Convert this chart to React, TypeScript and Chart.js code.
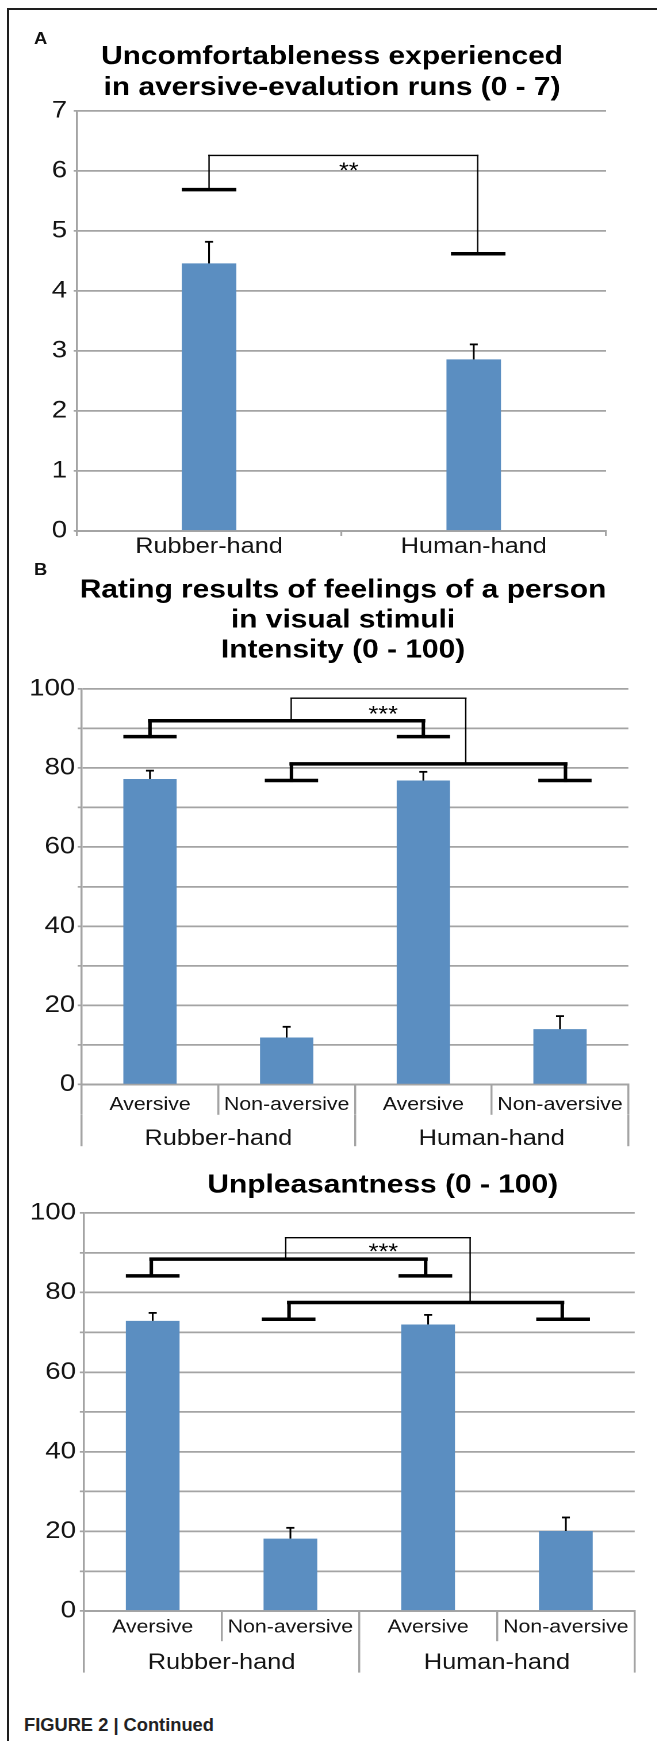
import React, { useEffect, useRef } from 'react';
import { Chart, registerables } from 'chart.js';

Chart.register(...registerables);

// ---------------- data ----------------
const aCategories = ['Rubber-hand', 'Human-hand'];
const aMeans = [4.46, 2.86];
const aErrTops = [4.82, 3.11];
const aTitle = ['Uncomfortableness experienced', 'in aversive-evalution runs (0 - 7)'];

const bCategories = ['Aversive', 'Non-aversive', 'Aversive', 'Non-aversive'];
const bGroups = ['Rubber-hand', 'Human-hand'];

const intensityTitle = ['Rating results of feelings of a person', 'in visual stimuli', 'Intensity (0 - 100)'];
const intensityMeans = [77.2, 11.9, 76.8, 14.0];
const intensityErrTops = [79.3, 14.6, 79.0, 17.3];

const unpleasantTitle = 'Unpleasantness (0 - 100)';
const unpleasantMeans = [72.9, 18.2, 72.0, 20.1];
const unpleasantErrTops = [74.9, 20.9, 74.4, 23.5];

// significance annotations: [category index, value]
type Pt = [number, number];
const aCaps: Pt[] = [[0, 5.69], [1.017, 4.62]];
const aThick: Pt[][] = [];
const aThin: Pt[][] = [[[0, 5.69], [0, 6.26], [1.015, 6.26], [1.015, 4.62]]];
const aStars = { at: [0.528, 6.1] as Pt, text: '**' };

const intCaps: Pt[] = [[0, 87.9], [2.0, 87.9], [1.035, 76.8], [3.036, 76.8]];
const intThick: Pt[][] = [
  [[0, 87.9], [0, 91.9], [2.0, 91.9], [2.0, 87.9]],
  [[1.035, 76.8], [1.035, 81.0], [3.04, 81.0], [3.04, 76.8]],
];
const intThin: Pt[][] = [[[1.033, 91.9], [1.033, 97.6], [2.31, 97.6], [2.31, 81.0]]];
const intStars = { at: [1.706, 94.9] as Pt, text: '***' };

const unpCaps: Pt[] = [[0, 84.2], [1.98, 84.2], [0.987, 73.3], [2.98, 73.3]];
const unpThick: Pt[][] = [
  [[-0.01, 84.2], [-0.01, 88.4], [1.982, 88.4], [1.982, 84.2]],
  [[0.99, 73.3], [0.99, 77.5], [2.974, 77.5], [2.974, 73.3]],
];
const unpThin: Pt[][] = [[[0.966, 88.4], [0.966, 93.8], [2.305, 93.8], [2.305, 77.5]]];
const unpStars = { at: [1.675, 91.7] as Pt, text: '***' };

// ---------------- style ----------------
const S = 1.15; // horizontal stretch of the reference figure
const LW = 660; // logical canvas width (clipped by the page)
const FONT = "'Liberation Sans', Arial, Helvetica, sans-serif";
const GRID = '#a4a4a4';
const TXT = '#141414';
const BAR = '#5b8ec1';

function seg(ctx: CanvasRenderingContext2D, x1: number, y1: number, x2: number, y2: number, w: number, cap: CanvasLineCap = 'square') {
  const vertical = Math.abs(x1 - x2) < 0.01;
  ctx.lineWidth = vertical ? w / S : w;
  ctx.lineCap = cap;
  ctx.beginPath();
  ctx.moveTo(x1, y1);
  ctx.lineTo(x2, y2);
  ctx.stroke();
}

function annotPlugin(id: string, means: number[], errTops: number[], caps: Pt[], thick: Pt[][], thin: Pt[][], stars: { at: Pt; text: string }) {
  return {
    id,
    afterDatasetsDraw(chart: any) {
      const ctx: CanvasRenderingContext2D = chart.ctx;
      const xs = chart.scales.x;
      const ys = chart.scales.y;
      const meta = chart.getDatasetMeta(0);
      const px = (i: number) => xs.getPixelForValue(i);
      const py = (v: number) => ys.getPixelForValue(v);
      ctx.save();
      ctx.strokeStyle = '#000';
      ctx.fillStyle = '#000';
      means.forEach((m, i) => {
        const bar = meta.data[i];
        const x = bar.x;
        const y0 = py(m);
        const y1 = py(errTops[i]);
        seg(ctx, x, y0, x, y1, 1.8, 'butt');
        seg(ctx, x - 3.5, y1, x + 3.5, y1, 1.8, 'butt');
      });
      const bw = meta.data[0].width;
      caps.forEach(([i, v]) => seg(ctx, px(i) - bw / 2, py(v), px(i) + bw / 2, py(v), 3.5, 'butt'));
      const poly = (pts: Pt[], w: number) => {
        for (let k = 0; k < pts.length - 1; k++) {
          seg(ctx, px(pts[k][0]), py(pts[k][1]), px(pts[k + 1][0]), py(pts[k + 1][1]), w, 'square');
        }
      };
      thick.forEach((p) => poly(p, 3.5));
      thin.forEach((p) => poly(p, 1.4));
      const fs = 22;
      ctx.font = `${fs}px ${FONT}`;
      ctx.textAlign = 'center';
      ctx.textBaseline = 'alphabetic';
      ctx.fillText(stars.text, px(stars.at[0]), py(stars.at[1]) + 0.58 * fs);
      ctx.restore();
    },
  };
}

function titleOpts(text: string | string[], lineH: number, top: number, bottom: number) {
  return {
    display: true,
    text,
    color: '#000',
    font: { family: FONT, size: 26, weight: 'bold' as const, lineHeight: lineH / 26 },
    padding: { top, bottom },
  };
}

// invisible right-hand box that keeps the title centred where the reference has it
function spacer(width: number) {
  return {
    type: 'linear',
    position: 'right',
    display: true,
    grid: { display: false },
    ticks: { display: false },
    border: { display: false },
    afterFit: (s: any) => { s.width = width; },
  };
}

function configA(): any {
  return {
    type: 'bar',
    data: {
      labels: aCategories,
      datasets: [{ data: aMeans, backgroundColor: BAR, borderWidth: 0, barPercentage: 0.206, categoryPercentage: 1 }],
    },
    options: {
      responsive: false,
      animation: false,
      devicePixelRatio: 2,
      layout: { padding: { left: 36.7, right: 119.3, top: 0, bottom: 2 } },
      plugins: {
        legend: { display: false },
        tooltip: { enabled: false },
        title: titleOpts(aTitle, 31, 41.4, 7.6),
      },
      scales: {
        x: {
          offset: true,
          grid: { offset: true, drawOnChartArea: false, drawTicks: true, tickLength: 5, color: GRID, lineWidth: 1.6 },
          border: { display: true, color: GRID, width: 2 },
          ticks: { font: { family: FONT, size: 22, lineHeight: 1 }, color: TXT, padding: 0, maxRotation: 0, minRotation: 0, autoSkip: false },
          afterFit: (s: any) => { s.height = 27; },
        },
        y: {
          min: 0,
          max: 7,
          ticks: { stepSize: 1, font: { family: FONT, size: 24 }, color: TXT, padding: 5.8 },
          grid: { color: GRID, lineWidth: 1.7, tickLength: 2.6 },
          border: { color: GRID, width: 1.75 },
          afterFit: (s: any) => { s.width = 30; },
        },
        yR: spacer(13.7),
      },
    },
    plugins: [annotPlugin('annotA', aMeans, aErrTops, aCaps, aThick, aThin, aStars)],
  };
}

function configB(
  id: string, title: string | string[], lineH: number, tPad: [number, number], means: number[], errTops: number[],
  caps: Pt[], thick: Pt[][], thin: Pt[][], stars: { at: Pt; text: string },
  pad: { left: number; right: number; bottom: number }, yWidth: number, yPad: number, rightWidth: number,
  row1Pad: number, row2Pad: number,
): any {
  const scales: any = {
    x: {
      offset: true,
      grid: { offset: true, drawOnChartArea: false, drawTicks: true, tickLength: 30.2, color: GRID, lineWidth: 1.75 },
      border: { display: true, color: GRID, width: 2 },
      ticks: { font: { family: FONT, size: 18.5, lineHeight: 1 }, color: TXT, padding: row1Pad, maxRotation: 0, minRotation: 0, autoSkip: false },
      afterFit: (s: any) => { s.height = 30.2; },
    },
    x2: {
      type: 'category',
      labels: bGroups,
      position: 'bottom',
      offset: true,
      grid: { offset: true, drawOnChartArea: false, drawTicks: true, tickLength: 31.4, color: GRID, lineWidth: 1.75 },
      border: { display: false },
      ticks: { font: { family: FONT, size: 22, lineHeight: 1 }, color: TXT, padding: row2Pad, maxRotation: 0, minRotation: 0, autoSkip: false },
      afterFit: (s: any) => { s.height = 31.4; },
    },
    y: {
      min: 0,
      max: 100,
      ticks: {
        stepSize: 10,
        font: { family: FONT, size: 24 },
        color: TXT,
        padding: yPad,
        callback: (v: any) => (Number(v) % 20 === 0 ? String(v) : ''),
      },
      grid: { color: GRID, lineWidth: 1.7, tickLength: 3.5 },
      border: { color: GRID, width: 1.75 },
      afterFit: (s: any) => { s.width = yWidth; },
    },
    yR: spacer(rightWidth),
  };
  return {
    type: 'bar',
    data: {
      labels: bCategories,
      datasets: [{ data: means, backgroundColor: BAR, borderWidth: 0, barPercentage: 0.39, categoryPercentage: 1 }],
    },
    options: {
      responsive: false,
      animation: false,
      devicePixelRatio: 2,
      layout: { padding: { left: pad.left, right: pad.right, top: 0, bottom: pad.bottom } },
      plugins: {
        legend: { display: false },
        tooltip: { enabled: false },
        title: titleOpts(title, lineH, tPad[0], tPad[1]),
      },
      scales,
    },
    plugins: [annotPlugin(id, means, errTops, caps, thick, thin, stars)],
  };
}

function ChartBox({ make, top, height }: { make: () => any; top: number; height: number }) {
  const ref = useRef<HTMLCanvasElement | null>(null);
  useEffect(() => {
    if (!ref.current) return;
    const chart = new Chart(ref.current, make());
    return () => chart.destroy();
  }, []);
  return (
    <div style={{ position: 'absolute', left: 0, top, width: LW * S, height }}>
      <canvas
        ref={ref}
        width={LW}
        height={height}
        style={{ width: `${LW * S}px`, height: `${height}px`, display: 'block' }}
      />
    </div>
  );
}

const panelLabel: React.CSSProperties = {
  position: 'absolute',
  fontFamily: FONT,
  fontWeight: 'bold',
  fontSize: '16px',
  lineHeight: 1,
  color: '#111',
  transform: `scaleX(${S})`,
  transformOrigin: 'left top',
  whiteSpace: 'nowrap',
};

export default function App() {
  return (
    <div
      style={{
        position: 'absolute',
        left: 0,
        top: 0,
        width: 657,
        height: 1741,
        overflow: 'hidden',
        background: '#fff',
      }}
    >
      <ChartBox make={configA} top={0} height={560} />
      <ChartBox
        make={() =>
          configB('annotB', intensityTitle, 30, [15.1, 23.6], intensityMeans, intensityErrTops,
            intCaps, intThick, intThin, intStars,
            { left: 21, right: 84.4, bottom: 13.8 }, 50, 2.1, 29.2, -18.95, -18.3)
        }
        top={560}
        height={600}
      />
      <ChartBox
        make={() =>
          configB('annotC', unpleasantTitle, 30, [10.2, 12.8], unpleasantMeans, unpleasantErrTops,
            unpCaps, unpThick, unpThin, unpStars,
            { left: 20.9, right: 15.3, bottom: 17.4 }, 52, 3.3, 92.8, -23.25, -20.9)
        }
        top={1160}
        height={530}
      />

      <div style={{ position: 'absolute', left: 7, top: 8, width: 650, height: 2, background: '#1e1e1e' }} />
      <div style={{ position: 'absolute', left: 7, top: 8, width: 2, height: 1733, background: '#1e1e1e' }} />

      <div style={{ ...panelLabel, left: 33.5, top: 30.5 }}>A</div>
      <div style={{ ...panelLabel, left: 33.5, top: 562 }}>B</div>
      <div
        style={{
          position: 'absolute',
          left: 24,
          top: 1715.5,
          fontFamily: FONT,
          fontWeight: 'bold',
          fontSize: '18.3px',
          lineHeight: 1,
          color: '#222',
          whiteSpace: 'nowrap',
        }}
      >
        FIGURE 2 | Continued
      </div>
    </div>
  );
}
